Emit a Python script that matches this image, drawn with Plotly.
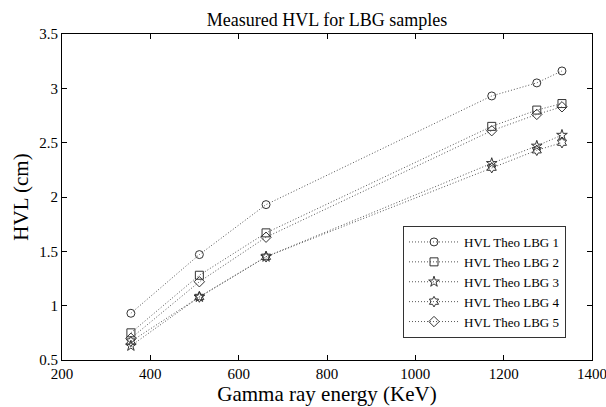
import plotly.graph_objects as go

energy = [356, 511, 662, 1173, 1275, 1332]
lbg1 = [0.93, 1.47, 1.93, 2.93, 3.05, 3.16]
lbg2 = [0.75, 1.28, 1.67, 2.65, 2.80, 2.86]
lbg3 = [0.63, 1.08, 1.45, 2.31, 2.47, 2.57]
lbg4 = [0.67, 1.08, 1.45, 2.27, 2.43, 2.50]
lbg5 = [0.70, 1.22, 1.63, 2.61, 2.76, 2.83]
names = ["HVL Theo LBG 1", "HVL Theo LBG 2", "HVL Theo LBG 3", "HVL Theo LBG 4", "HVL Theo LBG 5"]
series = [lbg1, lbg2, lbg3, lbg4, lbg5]
symbols = ["circle-open", "square-open", "star-open", "hexagram-open", "diamond-open"]

fig = go.Figure()
for n, s, sym in zip(names, series, symbols):
    fig.add_trace(go.Scatter(
        x=energy, y=s, name=n, mode="lines+markers",
        line=dict(color="#555555", width=1, dash="1px,2px"),
        marker=dict(symbol=sym, size=8, color="#333333", line=dict(width=1, color="#333333")),
    ))

font = "Liberation Serif, Times New Roman, serif"
L, R, T, B = 62, 14, 34, 47
W, H = 606, 407
pw, ph = W - L - R, H - T - B
fig.update_layout(
    width=W, height=H,
    margin=dict(l=L, r=R, t=T, b=B, autoexpand=False),
    paper_bgcolor="white", plot_bgcolor="white",
    font=dict(family=font, color="black", size=15),
    title=dict(text="Measured HVL for LBG samples", x=(L + pw / 2) / W, xanchor="center",
               y=1 - 20 / H, yanchor="middle", font=dict(size=18, family=font)),
    showlegend=True,
    legend=dict(x=(403 - L) / pw, y=(H - B - 338) / ph, xanchor="left", yanchor="bottom",
                bordercolor="#333333", borderwidth=1, bgcolor="white",
                font=dict(size=13, family=font), tracegroupgap=0, itemwidth=50),
)
fig.update_xaxes(range=[200, 1400], tickvals=[200, 400, 600, 800, 1000, 1200, 1400],
                 ticks="inside", ticklen=5, tickcolor="black", showline=True, linecolor="black",
                 linewidth=1, mirror="ticks", showgrid=False, zeroline=False, automargin=False,
                 ticklabeloverflow="allow",
                 title=dict(text="Gamma ray energy (KeV)", font=dict(size=21), standoff=2),
                 tickfont=dict(size=15))
fig.update_yaxes(range=[0.5, 3.5], tickvals=[0.5, 1, 1.5, 2, 2.5, 3, 3.5],
                 ticktext=["0.5", "1", "1.5", "2", "2.5", "3", "3.5"],
                 ticks="inside", ticklen=5, tickcolor="black", showline=True, linecolor="black",
                 linewidth=1, mirror="ticks", showgrid=False, zeroline=False, automargin=False,
                 ticklabeloverflow="allow",
                 title=dict(text="HVL (cm)", font=dict(size=21), standoff=4),
                 tickfont=dict(size=15))
fig.write_html("out.html")
